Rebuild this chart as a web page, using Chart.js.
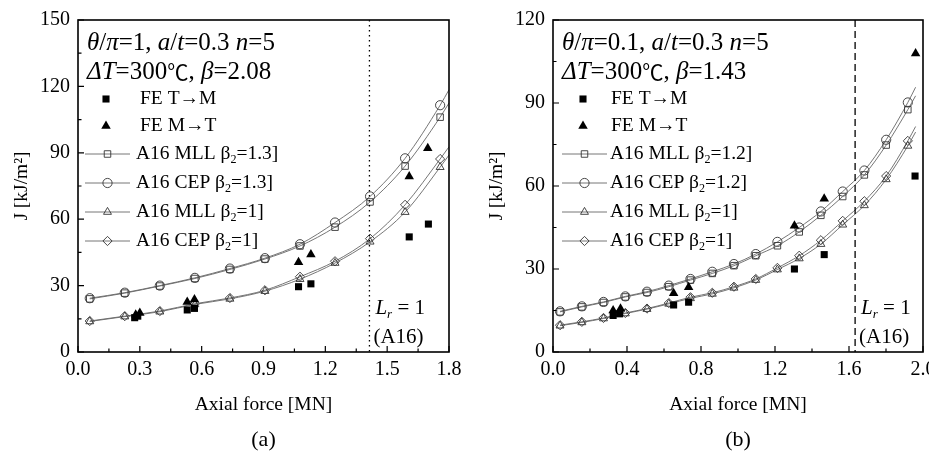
<!DOCTYPE html>
<html><head><meta charset="utf-8">
<script src="https://cdn.jsdelivr.net/npm/chart.js@4.4.1/dist/chart.umd.min.js"></script>
<style>
html,body{margin:0;padding:0;background:#fff;}
#wrap{position:relative;width:929px;height:462px;overflow:hidden;background:#fff;}
canvas{position:absolute;top:0;}
#ca{left:0;} #cb{left:470px;}
</style></head><body>
<div id="wrap"><canvas id="ca" width="470" height="462"></canvas><canvas id="cb" width="459" height="462"></canvas></div>
<script>
// ---------- DATA (panel a) ----------
const xTicksA = [0, 0.3, 0.6, 0.9, 1.2, 1.5, 1.8];
const yTicksA = [0, 30, 60, 90, 120, 150];
const forceA = [0.057, 0.227, 0.397, 0.567, 0.737, 0.907, 1.077, 1.247, 1.417, 1.587, 1.757, 1.8];
const mllA13 = [24.0, 26.6, 29.8, 33.2, 37.3, 42.0, 47.9, 56.4, 67.8, 84.0, 106.1, 112.5];
const cepA13 = [24.3, 26.8, 30.0, 33.5, 37.7, 42.4, 48.7, 58.5, 70.3, 87.5, 111.5, 118.5];
const mllA1  = [13.8, 16.0, 18.2, 21.5, 24.0, 27.5, 32.9, 40.2, 49.8, 63.2, 83.5, 89.0];
const cepA1  = [14.0, 16.2, 18.5, 21.8, 24.4, 27.9, 34.0, 41.0, 51.2, 66.5, 87.2, 92.7];
const feTMxA = [0.275, 0.29, 0.53, 0.565, 1.07, 1.13, 1.607, 1.70];
const feTMyA = [15.5, 16.2, 19.0, 19.7, 29.5, 30.8, 52.0, 57.8];
const feMTxA = [0.28, 0.30, 0.53, 0.565, 1.07, 1.13, 1.607, 1.697];
const feMTyA = [16.8, 17.6, 22.6, 23.7, 40.6, 44.0, 79.3, 92.1];
const lrA = 1.414;
// ---------- DATA (panel b) ----------
const xTicksB = [0, 0.4, 0.8, 1.2, 1.6, 2.0];
const yTicksB = [0, 30, 60, 90, 120];
const forceB = [0.038, 0.156, 0.273, 0.391, 0.508, 0.626, 0.743, 0.861, 0.978, 1.096, 1.213, 1.331, 1.448, 1.566, 1.683, 1.801, 1.918, 1.96];
const mllB12 = [14.5, 16.3, 17.9, 19.9, 21.5, 23.6, 26.0, 28.4, 31.2, 34.8, 38.4, 43.4, 49.4, 56.2, 64.0, 74.8, 87.6, 92.6];
const cepB12 = [14.7, 16.5, 18.1, 20.1, 21.8, 24.0, 26.4, 29.0, 31.8, 35.4, 39.8, 45.0, 50.8, 58.0, 65.6, 76.7, 90.2, 95.7];
const mllB1  = [9.5, 10.7, 12.1, 13.9, 15.5, 17.4, 19.4, 21.0, 23.2, 26.0, 29.8, 33.8, 39.0, 46.0, 53.0, 62.4, 74.5, 79.5];
const cepB1  = [9.7, 10.9, 12.3, 14.1, 15.7, 17.7, 19.8, 21.4, 23.6, 26.4, 30.4, 34.8, 40.4, 47.4, 54.5, 63.6, 76.3, 81.5];
const feTMxB = [0.325, 0.36, 0.652, 0.733, 1.305, 1.466, 1.957];
const feTMyB = [13.2, 13.8, 17.0, 18.0, 30.0, 35.2, 63.6];
const feMTxB = [0.325, 0.365, 0.652, 0.733, 1.305, 1.466, 1.96];
const feMTyB = [15.0, 15.6, 21.2, 23.4, 45.6, 55.4, 107.9];
const lrB = 1.633;

// ---------- helpers ----------
const FAM = '"Liberation Serif","DejaVu Serif","Noto Sans CJK SC",serif';
const CJK = '"Noto Sans CJK SC","DejaVu Sans",sans-serif';
const pts = (xs, ys) => xs.map((x, i) => ({x: x, y: ys[i]}));
function drawRich(ctx, x, y, segs, size) {
  let cx = x;
  ctx.textBaseline = 'middle';
  ctx.textAlign = 'left';
  for (const s of segs) {
    const t = s[0], it = s[1], sub = s[2], cjk = s[3];
    const fs = sub ? size * 0.62 : (cjk ? size * 0.85 : size);
    ctx.font = (it ? 'italic ' : '') + fs + 'px ' + (cjk ? CJK : FAM);
    ctx.fillText(t, cx, sub ? y + size * 0.3 : y);
    cx += ctx.measureText(t).width;
  }
  return cx;
}
function lineDs(xs, ys, style, label) {
  const last = xs.length - 1;
  return {
    type: 'line', label: label, data: pts(xs, ys),
    borderColor: '#666', borderWidth: 0.9, tension: 0.4, cubicInterpolationMode: 'monotone',
    pointStyle: style, pointRadius: c => c.dataIndex === last ? 0 : 4.6,
    pointBorderColor: '#333', pointBackgroundColor: 'rgba(0,0,0,0)', pointBorderWidth: 0.9,
    order: 2
  };
}
function feDs(xs, ys, style, r, label) {
  return {type: 'scatter', label: label, data: pts(xs, ys), pointStyle: style, pointRadius: r,
    backgroundColor: '#000', borderColor: '#000', borderWidth: 0, showLine: false, order: 1};
}

const panelPlugin = {
  id: 'panel',
  afterDraw(chart, args, o) {
    const ctx = chart.ctx, a = chart.chartArea;
    const xs = chart.scales.x, ys = chart.scales.y;
    ctx.save();
    ctx.fillStyle = '#000'; ctx.strokeStyle = '#000';
    // Lr line
    const lx = xs.getPixelForValue(o.lr);
    ctx.lineWidth = 1.3; ctx.setLineDash(o.dash);
    ctx.beginPath(); ctx.moveTo(lx, a.top); ctx.lineTo(lx, a.bottom); ctx.stroke();
    ctx.setLineDash([]);
    // inward ticks
    ctx.lineWidth = 1.2;
    const xt = xs.ticks.map(t => t.value), yt = ys.ticks.map(t => t.value);
    ctx.beginPath();
    xt.forEach((v, i) => {
      const p = xs.getPixelForValue(v);
      ctx.moveTo(p, a.bottom); ctx.lineTo(p, a.bottom - 6);
      if (i < xt.length - 1) { const m = xs.getPixelForValue((v + xt[i + 1]) / 2); ctx.moveTo(m, a.bottom); ctx.lineTo(m, a.bottom - 3.5); }
    });
    yt.forEach((v, i) => {
      const p = ys.getPixelForValue(v);
      ctx.moveTo(a.left, p); ctx.lineTo(a.left + 6, p);
      if (i < yt.length - 1) { const m = ys.getPixelForValue((v + yt[i + 1]) / 2); ctx.moveTo(a.left, m); ctx.lineTo(a.left + 3.5, m); }
    });
    ctx.stroke();
    // frame
    ctx.lineWidth = 1.6;
    ctx.strokeRect(a.left, a.top, a.right - a.left, a.bottom - a.top);
    // annotations
    drawRich(ctx, o.annX, 43, o.ann1, 25);
    drawRich(ctx, o.annX, 72, o.ann2, 25);
    // legend
    const rows = [99, 126, 154, 183, 212, 241];
    o.legend.forEach((e, i) => {
      const y = rows[i];
      if (e.fe) {
        ctx.fillStyle = '#000';
        Chart.helpers.drawPoint(ctx, {pointStyle: e.style, radius: e.r, rotation: 0, borderWidth: 0}, o.legFeX, y);
        ctx.fillStyle = '#000';
        drawRich(ctx, o.legFeText, y, e.text, 19.5);
      } else {
        ctx.strokeStyle = '#666'; ctx.lineWidth = 0.9;
        ctx.beginPath(); ctx.moveTo(o.legL0, y); ctx.lineTo(o.legL1, y); ctx.stroke();
        ctx.strokeStyle = '#333'; ctx.fillStyle = 'rgba(0,0,0,0)';
        Chart.helpers.drawPoint(ctx, {pointStyle: e.style, radius: 4.6, rotation: 0, borderWidth: 0.9}, (o.legL0 + o.legL1) / 2, y);
        ctx.fillStyle = '#000';
        drawRich(ctx, o.legText, y, e.text, 19.5);
      }
    });
    // Lr label
    ctx.fillStyle = '#000';
    drawRich(ctx, lx + 6, 308, [['L', 1], ['r', 1, 1], [' = 1', 0]], 21);
    drawRich(ctx, lx + 4, 337, [['(A16)', 0]], 21);
    // axis titles
    const cx = (a.left + a.right) / 2;
    ctx.textAlign = 'center'; ctx.textBaseline = 'middle';
    ctx.font = '19.5px ' + FAM;
    ctx.fillText('Axial force [MN]', cx, 405);
    ctx.font = '22px ' + FAM;
    ctx.fillText(o.tag, cx, 440);
    ctx.save();
    ctx.translate(o.yTitleX, (a.top + a.bottom) / 2);
    ctx.rotate(-Math.PI / 2);
    ctx.font = '19.5px ' + FAM;
    ctx.fillText('J [kJ/m²]', 0, 0);
    ctx.restore();
    ctx.restore();
  }
};

function makeChart(id, cfg) {
  return new Chart(document.getElementById(id), {
    data: {datasets: cfg.datasets},
    options: {
      responsive: false, animation: false, events: [],
      layout: {autoPadding: false, padding: {top: 16, right: cfg.padR, left: 0, bottom: 0}},
      plugins: {legend: {display: false}, tooltip: {enabled: false}, panel: cfg.panel},
      scales: {
        x: {type: 'linear', min: cfg.xTicks[0], max: cfg.xTicks[cfg.xTicks.length - 1],
          afterBuildTicks: s => { s.ticks = cfg.xTicks.map(v => ({value: v})); },
          afterFit: s => { s.height = 110; s.paddingLeft = 0; s.paddingRight = 0; },
          grid: {display: false, drawTicks: false}, border: {display: false},
          ticks: {color: '#000', font: {family: FAM, size: 20}, padding: 6, maxRotation: 0, autoSkip: false,
            callback: v => Number(v).toFixed(1)}},
        y: {type: 'linear', min: cfg.yTicks[0], max: cfg.yTicks[cfg.yTicks.length - 1],
          afterBuildTicks: s => { s.ticks = cfg.yTicks.map(v => ({value: v})); },
          afterFit: s => { s.width = cfg.yW; },
          grid: {display: false, drawTicks: false}, border: {display: false},
          ticks: {color: '#000', font: {family: FAM, size: 20}, padding: 8, autoSkip: false,
            callback: v => String(v)}}
      }
    },
    plugins: [panelPlugin]
  });
}

const legA = (b) => [
  {fe: true, style: 'rect', r: 5, text: [['FE T→M', 0]]},
  {fe: true, style: 'triangle', r: 5.5, text: [['FE M→T', 0]]},
  {style: 'rect', text: [['A16 MLL β', 0], ['2', 0, 1], ['=' + b + ']', 0]]},
  {style: 'circle', text: [['A16 CEP β', 0], ['2', 0, 1], ['=' + b + ']', 0]]},
  {style: 'triangle', text: [['A16 MLL β', 0], ['2', 0, 1], ['=1]', 0]]},
  {style: 'rectRot', text: [['A16 CEP β', 0], ['2', 0, 1], ['=1]', 0]]}
];

makeChart('ca', {
  xTicks: xTicksA, yTicks: yTicksA, yW: 78, padR: 21,
  datasets: [
    lineDs(forceA, mllA13, 'rect', 'A16 MLL β2=1.3]'),
    lineDs(forceA, cepA13, 'circle', 'A16 CEP β2=1.3]'),
    lineDs(forceA, mllA1, 'triangle', 'A16 MLL β2=1]'),
    lineDs(forceA, cepA1, 'rectRot', 'A16 CEP β2=1]'),
    feDs(feTMxA, feTMyA, 'rect', 5, 'FE T→M'),
    feDs(feMTxA, feMTyA, 'triangle', 5.5, 'FE M→T')
  ],
  panel: {lr: lrA, dash: [1.5, 3.5], tag: '(a)', yTitleX: 22, annX: 87,
    ann1: [['θ', 1], ['/', 0], ['π', 1], ['=1, ', 0], ['a', 1], ['/', 0], ['t', 1], ['=0.3 ', 0], ['n', 1], ['=5', 0]],
    ann2: [['Δ', 1], ['T', 1], ['=300', 0], ['℃', 0, 0, 1], [', ', 0], ['β', 1], ['=2.08', 0]],
    legend: legA('1.3'), legFeX: 106, legFeText: 140, legL0: 85, legL1: 130, legText: 136}
});

makeChart('cb', {
  xTicks: xTicksB, yTicks: yTicksB, yW: 83, padR: 6,
  datasets: [
    lineDs(forceB, mllB12, 'rect', 'A16 MLL β2=1.2]'),
    lineDs(forceB, cepB12, 'circle', 'A16 CEP β2=1.2]'),
    lineDs(forceB, mllB1, 'triangle', 'A16 MLL β2=1]'),
    lineDs(forceB, cepB1, 'rectRot', 'A16 CEP β2=1]'),
    feDs(feTMxB, feTMyB, 'rect', 5, 'FE T→M'),
    feDs(feMTxB, feMTyB, 'triangle', 5.5, 'FE M→T')
  ],
  panel: {lr: lrB, dash: [7, 4], tag: '(b)', yTitleX: 27, annX: 92,
    ann1: [['θ', 1], ['/', 0], ['π', 1], ['=0.1, ', 0], ['a', 1], ['/', 0], ['t', 1], ['=0.3 ', 0], ['n', 1], ['=5', 0]],
    ann2: [['Δ', 1], ['T', 1], ['=300', 0], ['℃', 0, 0, 1], [', ', 0], ['β', 1], ['=1.43', 0]],
    legend: legA('1.2'), legFeX: 113, legFeText: 141, legL0: 92, legL1: 137, legText: 140}
});
</script>
</body></html>
